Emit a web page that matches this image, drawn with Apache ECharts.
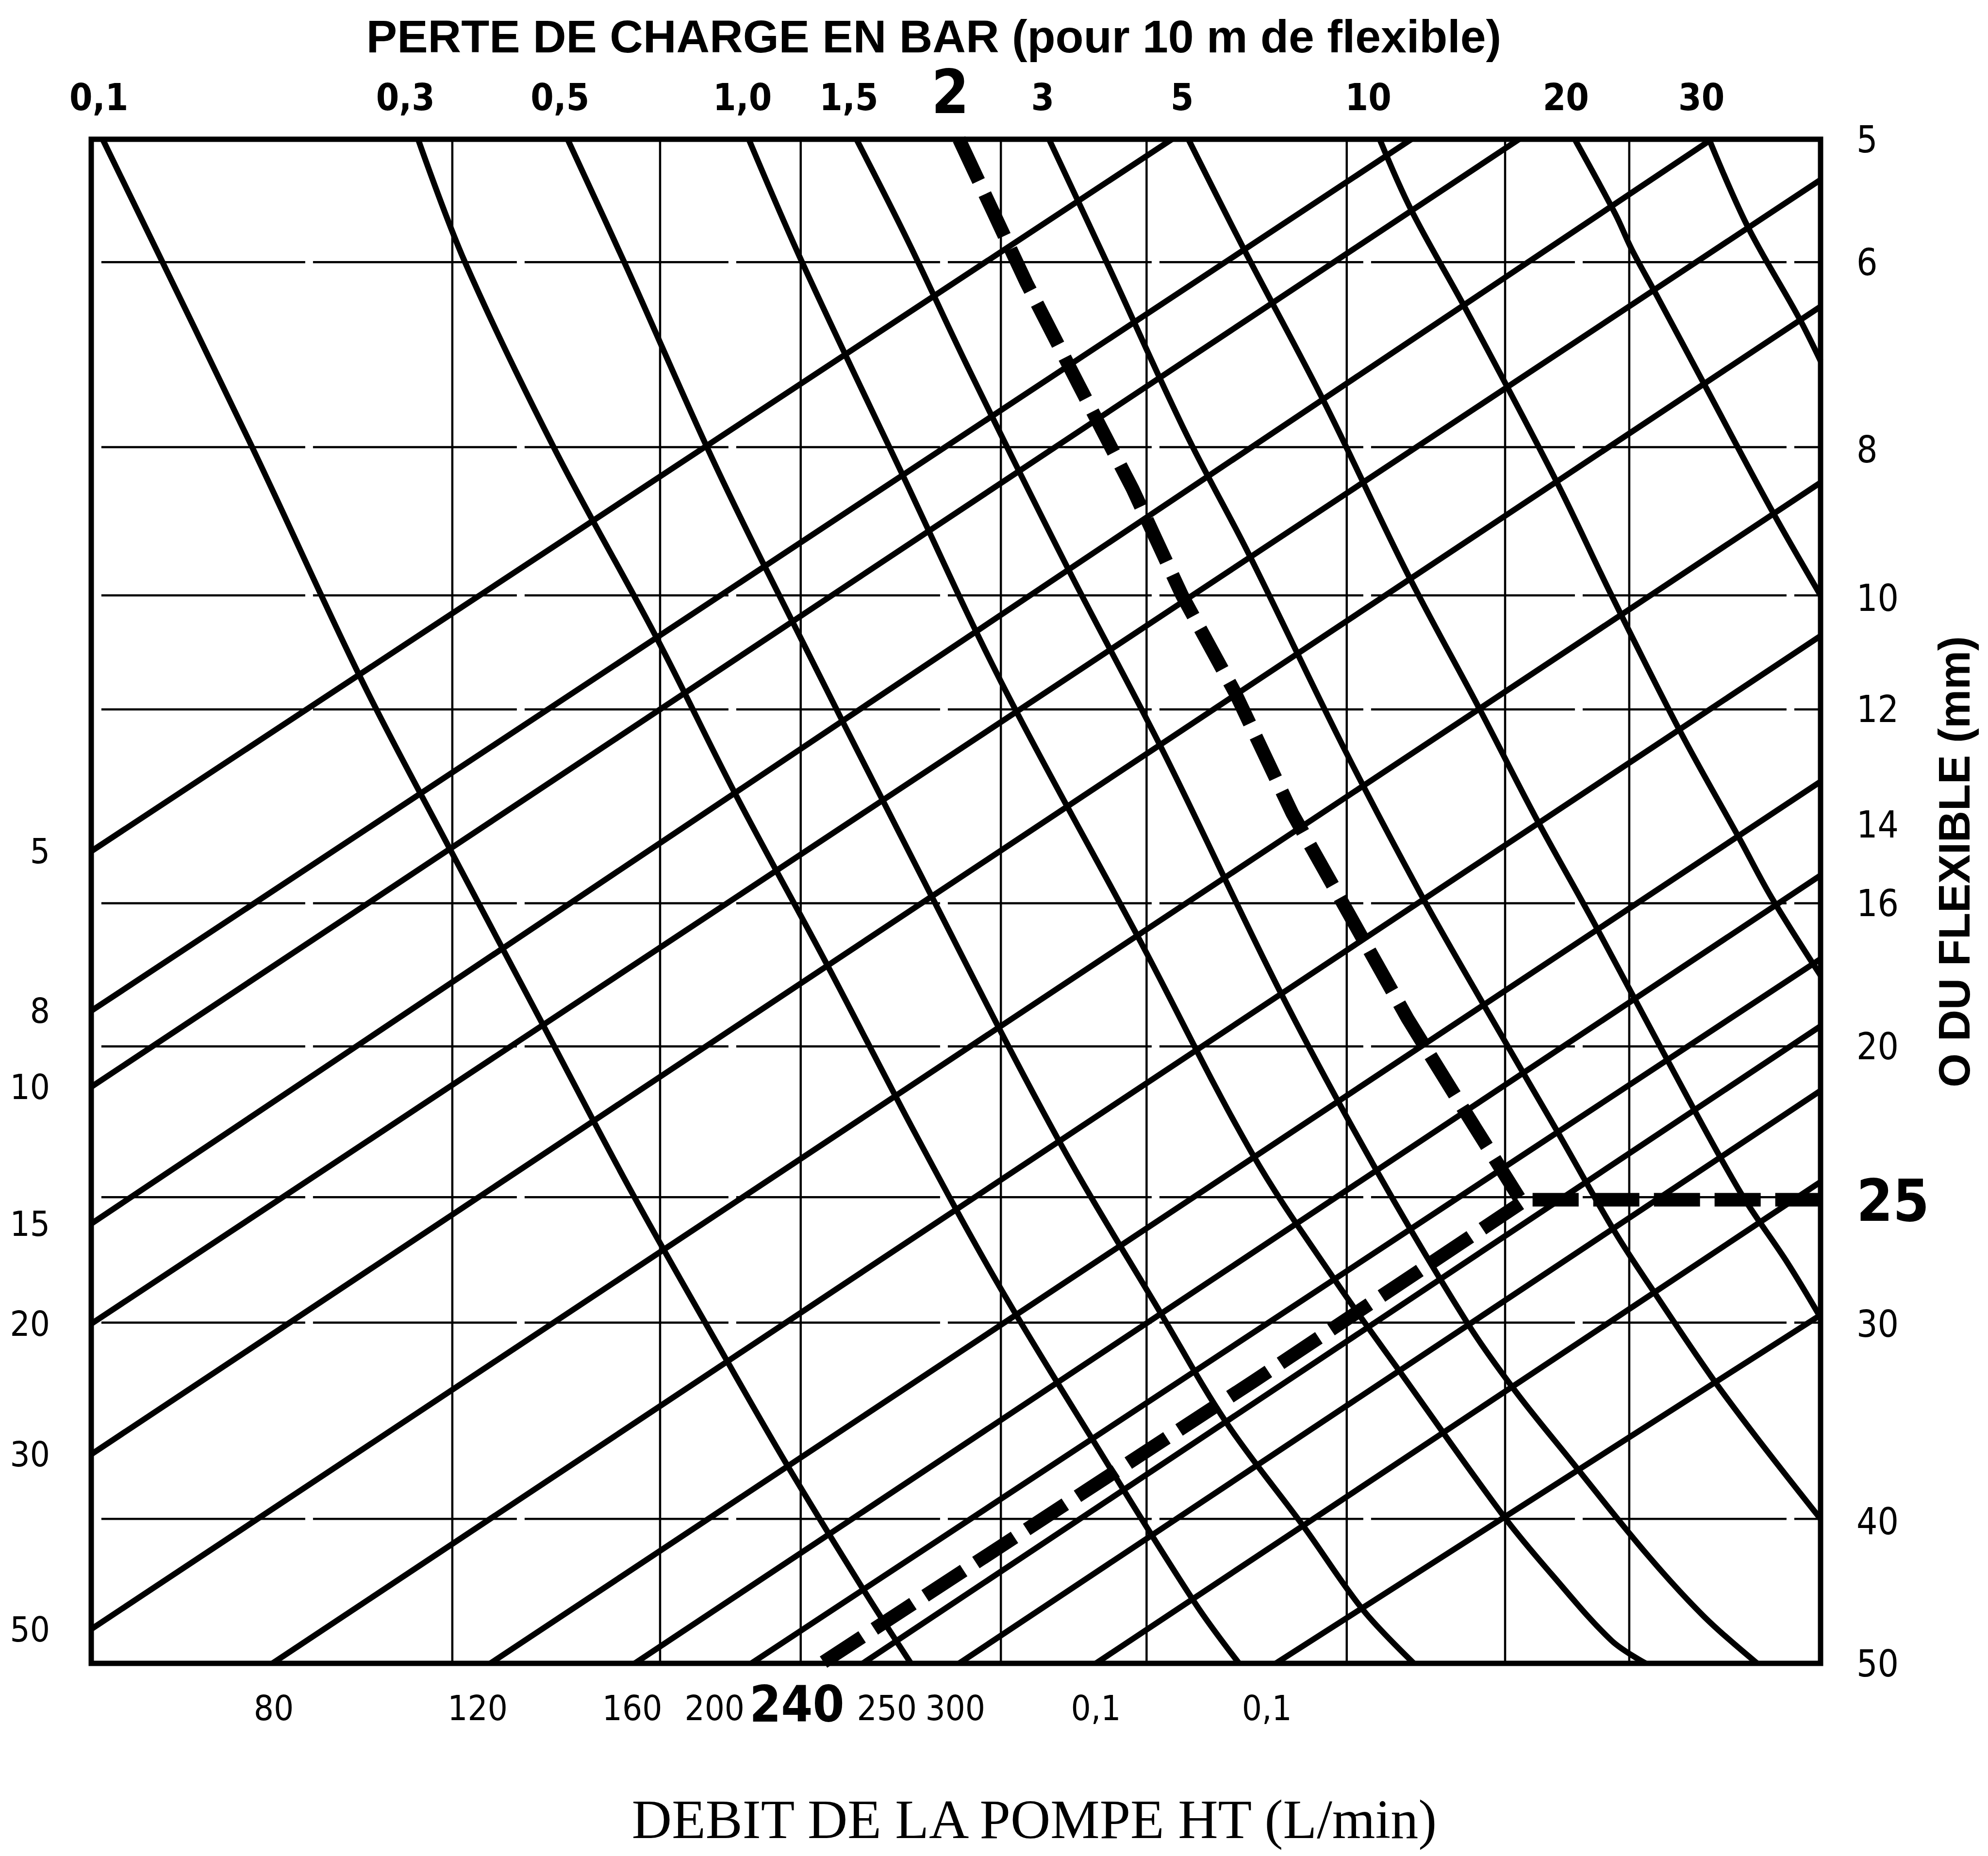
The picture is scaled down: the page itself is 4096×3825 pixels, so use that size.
<!DOCTYPE html>
<html>
<head>
<meta charset="utf-8">
<script src="https://cdn.jsdelivr.net/npm/echarts@6/dist/echarts.min.js"></script>
<style>html,body{margin:0;padding:0;background:#fff}#chart{width:4096px;height:3825px}</style>
</head>
<body>
<div id="chart"></div>
<script>
// Nomogram units: horizontal 0..1365 (left to right), vertical 0..1203 (top to bottom)

// Top scale: pressure loss (bar per 10 m of hose)
const pressureLabels = ['0,1','0,3','0,5','1,0','1,5','2','3','5','10','20','30'];
const pressureLabelPos = [6,248,370,514,598,678,751,861,1008,1164,1271];

// Bottom scale: pump flow (L/min)
const flowBottomLabels = ['80','120','160','200','240','250','300','0,1','0,1'];
const flowBottomLabelPos = [144,305,427,492,557,628,682,793,928];

// Left labels of flow lines
const flowLeftLabels = ['5','8','10','15','20','30','50'];

// Right scale: hose diameter (mm)
const diameterLabels = ['5','6','8','10','12','14','16','20','25','30','40','50'];
const diameterPos = [0,97,245,362,450,541,603,716,838,935,1091,1203];

// Grid lines
const gridX = [285,449,560,718,833,991,1116,1214];
const gridY = [97,243,360,450,603,716,835,934,1089];

// Flow lines (straight, rising): start and end points
const flowLineStart = [[0,562],[0,688],[0,748],[0,856],[0,935],[0,1038],[0,1176],[143,1203],[315,1203],[429,1203],[521,1203],[609,1203],[685,1203],[793,1203],[935,1203]];
const flowLineEnd = [[853,0],[1042,0],[1127,0],[1279,0],[1365,32],[1365,132],[1365,271],[1365,392],[1365,507],[1365,581],[1365,647],[1365,700],[1365,751],[1365,823],[1365,928]];

// Pressure-loss curves (descending)
const loss0_1 = [[9,0],[127,243],[214,428],[283,560],[355,696],[426,830],[500,961],[549,1046],[609,1144],[647,1203]];
const loss0_3 = [[258,0],[295,97],[365,243],[446,393],[508,516],[580,650],[650,784],[716,904],[792,1029],[871,1155],[906,1203]];
const loss0_5 = [[376,0],[423,102],[486,243],[530,334],[661,593],[763,789],[845,928],[896,1013],[957,1095],[1004,1161],[1044,1203]];
const loss1_0 = [[519,0],[562,99],[640,264],[718,428],[827,631],[916,800],[982,901],[1036,977],[1115,1087],[1153,1133],[1200,1185],[1227,1203]];
const loss1_5 = [[604,0],[644,79],[691,178],[770,337],[846,483],[938,672],[1014,813],[1086,934],[1124,988],[1168,1043],[1228,1117],[1273,1166],[1315,1203]];
const loss3 = [[756,0],[801,96],[864,232],[913,326],[989,481],[1049,595],[1099,683],[1156,781],[1203,863],[1235,912],[1279,977],[1314,1024],[1365,1089]];
const loss5 = [[866,0],[910,87],[973,207],[1039,343],[1096,450],[1140,535],[1187,620],[1241,721],[1301,830],[1339,887],[1365,930]];
const loss10 = [[1017,0],[1042,56],[1086,136],[1156,269],[1200,360],[1254,467],[1301,552],[1326,598],[1365,660]];
const loss20 = [[1171,0],[1203,59],[1216,87],[1235,122],[1273,193],[1326,292],[1365,360]];
const loss30 = [[1277,0],[1307,68],[1348,141],[1365,175]];

// Worked example (dashed): 2 bar curve down to 25 mm, then across to the right scale
const example2bar = [[685,0],[738,113],[779,193],[822,276],[861,360],[903,437],[948,532],[993,612],[1039,694],[1086,770],[1128,837],[1365,837]];
// Worked example (dashed): 240 L/min flow line
const example240 = [[578,1202],[918,980],[1128,840]];

const NARROW = "'Liberation Sans Narrow','Arial Narrow','DejaVu Sans Condensed',sans-serif";

function lookup(pos, labels, big, bigTag) {
  const m = new Map();
  pos.forEach((p, i) => m.set(p, labels[i]));
  return function (v) {
    const t = m.get(v);
    if (t === undefined) return '';
    return t === big ? '{' + bigTag + '|' + t + '}' : t;
  };
}

const thin = { color: '#000', width: 4.5 };
const thick = { color: '#000', width: 12 };

const series = [];
gridX.forEach(x => series.push({
  type: 'line', data: [[x, 0], [x, 1203]], symbol: 'none', silent: true, z: 1,
  lineStyle: thin
}));
gridY.forEach(y => series.push({
  type: 'line', data: [[8, y], [1365, y]], symbol: 'none', silent: true, z: 1,
  lineStyle: Object.assign({ type: [420, 16] }, thin)
}));
flowLineStart.forEach((s, i) => series.push({
  type: 'line', data: [s, flowLineEnd[i]], symbol: 'none', silent: true, z: 2,
  lineStyle: thick
}));
[loss0_1, loss0_3, loss0_5, loss1_0, loss1_5, loss3, loss5, loss10, loss20, loss30].forEach(c => series.push({
  type: 'line', data: c, symbol: 'none', silent: true, z: 2, smooth: 0.35,
  lineStyle: thick
}));
[example2bar, example240].forEach(c => series.push({
  type: 'line', data: c, symbol: 'none', silent: true, z: 3,
  lineStyle: { color: '#000', width: 28, type: [95, 30], cap: 'butt', join: 'miter' }
}));

const chart = echarts.init(document.getElementById('chart'), null, { renderer: 'svg', width: 4096, height: 3825 });
chart.setOption({
  animation: false,
  backgroundColor: '#fff',
  grid: { left: 188, top: 287, width: 3563, height: 3141, show: true, borderWidth: 11, borderColor: '#000', backgroundColor: 'transparent', containLabel: false, outerBoundsMode: 'none' },
  xAxis: [
    {
      type: 'value', position: 'bottom', min: 0, max: 1365,
      axisLine: { show: false }, axisTick: { show: false }, splitLine: { show: false },
      axisLabel: {
        customValues: flowBottomLabelPos, formatter: lookup(flowBottomLabelPos, flowBottomLabels, '240', 'big'),
        margin: 56, color: '#000', fontFamily: NARROW, fontSize: 72, lineHeight: 72,
        rich: { big: { fontFamily: NARROW, fontSize: 104, fontWeight: 'bold', lineHeight: 56, color: '#000' } }
      }
    },
    {
      type: 'value', position: 'top', min: 0, max: 1365,
      axisLine: { show: false }, axisTick: { show: false }, splitLine: { show: false },
      axisLabel: {
        customValues: pressureLabelPos, formatter: lookup(pressureLabelPos, pressureLabels, '2', 'big'),
        margin: 49, color: '#000', fontFamily: NARROW, fontWeight: 'bold', fontSize: 76, lineHeight: 76,
        rich: { big: { fontFamily: NARROW, fontSize: 124, fontWeight: 'bold', lineHeight: 96, color: '#000' } }
      }
    }
  ],
  yAxis: [
    {
      type: 'value', position: 'left', inverse: true, min: 0, max: 1203,
      axisLine: { show: false }, axisTick: { show: false }, splitLine: { show: false },
      axisLabel: {
        customValues: flowLineStart.slice(0, flowLeftLabels.length).map(p => p[1]),
        formatter: lookup(flowLineStart.slice(0, flowLeftLabels.length).map(p => p[1]), flowLeftLabels, null, 'big'),
        margin: 85, color: '#000', fontFamily: NARROW, fontSize: 72, lineHeight: 72
      }
    },
    {
      type: 'value', position: 'right', inverse: true, min: 0, max: 1203,
      axisLine: { show: false }, axisTick: { show: false }, splitLine: { show: false },
      axisLabel: {
        customValues: diameterPos, formatter: lookup(diameterPos, diameterLabels, '25', 'big'),
        margin: 74, color: '#000', fontFamily: NARROW, fontSize: 76, lineHeight: 76,
        rich: { big: { fontFamily: NARROW, fontSize: 120, fontWeight: 'bold', lineHeight: 120, color: '#000' } }
      }
    }
  ],
  graphic: [
    { type: 'text', x: 1924, y: 75, silent: true,
      style: { text: 'PERTE DE CHARGE EN BAR (pour 10 m de flexible)', font: "bold 95px 'Liberation Sans', Arial, sans-serif", fill: '#000', align: 'center', verticalAlign: 'middle', textAlign: 'center', textVerticalAlign: 'middle' } },
    { type: 'text', x: 2131, y: 3749, silent: true,
      style: { text: 'DEBIT DE LA POMPE HT (L/min)', font: "114px 'Liberation Serif', 'Times New Roman', serif", fill: '#000', align: 'center', verticalAlign: 'middle', textAlign: 'center', textVerticalAlign: 'middle' } },
    { type: 'text', x: 4027, y: 1776, rotation: Math.PI / 2, silent: true,
      style: { text: 'O DU FLEXIBLE (mm)', font: "bold 90px 'Liberation Sans', Arial, sans-serif", fill: '#000', align: 'center', verticalAlign: 'middle', textAlign: 'center', textVerticalAlign: 'middle' } }
  ],
  series: series
});
</script>
</body>
</html>
